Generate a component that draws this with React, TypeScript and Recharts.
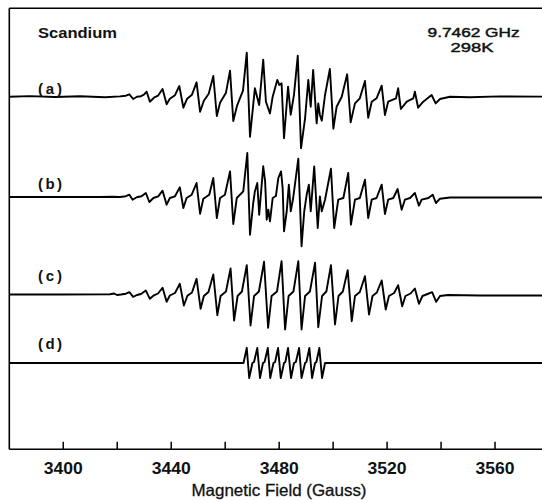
import React from 'react';
import { LineChart, Line, XAxis, YAxis, ReferenceLine } from 'recharts';

// ---- text ----
const sampleName = 'Scandium';
const conditions = ['9.7462 GHz', '298K'];
const traceLabels = ['(a)', '(b)', '(c)', '(d)'];
const axisTitle = 'Magnetic Field (Gauss)';

// ---- axis ----
const fieldDomain: [number, number] = [3380, 3580];
const fieldTicks = [3400, 3420, 3440, 3460, 3480, 3500, 3520, 3540, 3560];
const labelledTicks = [3400, 3440, 3480, 3520, 3560];

// ---- spectra: [field (G), derivative signal (arb.)] ----
const traceA: [number, number][] = [
  [3380.0, 0], [3387.7, 0.6], [3396.9, -0.3], [3406.2, 0.4], [3415.5, -0.5], [3421.0, 0.3],
  [3423.2, 1], [3424.5, 2.4], [3425.9, -2.3], [3427.3, 0], [3428.8, 0.5], [3429.9, 2],
  [3430.9, 5], [3432.1, -5], [3433.6, -1], [3435.1, 1], [3436.8, 7.7], [3438.3, -7.6],
  [3439.5, -2], [3441.4, 1.5], [3443.0, 10.7], [3444.5, -11], [3445.9, -2], [3447.7, 2],
  [3449.4, 14.4], [3450.7, -15], [3452.1, -4], [3453.9, 3], [3455.6, 20.7], [3456.9, -19.3],
  [3458.1, -6], [3460.3, 4], [3461.8, 26], [3463.0, -24.3], [3464.4, -9], [3466.6, 6],
  [3468.0, 44], [3469.2, -40], [3471.0, 8.4], [3472.6, -8.3], [3474.1, 37], [3475.1, -5],
  [3476.6, -16.7], [3477.6, 0], [3479.3, 16.7], [3480.1, 11.7], [3480.9, 13.4], [3481.8, -41.6],
  [3483.3, 10], [3484.3, -18], [3485.5, 2], [3486.9, 41], [3488.1, -51.6], [3489.6, -21.6],
  [3490.8, 16.7], [3491.7, -10], [3492.6, 26.7], [3493.9, -26.7], [3494.5, -6.7], [3495.1, -18.3],
  [3495.8, -24], [3497.0, 1.7], [3498.8, 27.7], [3500.1, -32], [3501.3, -10], [3503.2, 0],
  [3505.2, 22.4], [3506.5, -25.6], [3508.1, -6.7], [3509.9, -1.6], [3511.8, 15.7], [3513.0, -21],
  [3514.3, -5], [3516.1, -1.6], [3518.0, 11], [3519.2, -18.3], [3520.4, -5], [3523.3, -1.6],
  [3524.1, 8.4], [3525.1, -12.3], [3527.3, -5], [3529.7, -1.7], [3530.3, 5], [3531.5, -11],
  [3533.4, -5], [3536.5, 1.7], [3538.0, -6.7], [3539.6, -2.3], [3543.3, 0], [3550.7, -0.5],
  [3561.8, 0.3], [3580.0, 0],
];

const traceB: [number, number][] = [
  [3380.0, 0], [3398.8, 0], [3413.6, 0], [3418.0, 0.2], [3421.0, 0], [3423.2, 0.8],
  [3424.5, 2.3], [3425.7, -2.7], [3427.2, -0.3], [3429.0, 0.7], [3430.6, 4], [3431.9, -5],
  [3433.4, -1], [3435.2, 0.7], [3436.8, 6.3], [3438.3, -7.7], [3439.5, -1], [3441.4, 0.7],
  [3443.2, 9.7], [3444.5, -11], [3445.7, -1], [3447.6, 2.3], [3449.4, 14], [3450.7, -16.7],
  [3451.9, -1.7], [3454.1, 2.3], [3455.6, 19], [3456.9, -21], [3458.1, -1], [3459.9, 2.3],
  [3461.8, 25.6], [3463.0, -27], [3464.3, -1], [3466.7, 5.6], [3468.2, 44], [3469.2, -37.7],
  [3470.4, -6], [3471.0, 5.6], [3471.9, 14], [3472.6, -17.7], [3474.1, 30.7], [3474.8, 15.6],
  [3475.4, -22.7], [3476.0, -12.7], [3476.6, -24.3], [3477.6, -1], [3478.8, 1], [3479.7, 19],
  [3480.7, 25.6], [3481.3, 9], [3481.8, -34.3], [3482.8, -14.3], [3483.6, 12.3], [3484.3, -14.3],
  [3485.2, -1], [3487.1, 38.3], [3488.3, -49.3], [3489.3, -14.3], [3490.2, 2.3], [3491.0, 12.3],
  [3491.7, -14.3], [3493.0, 30.6], [3494.3, -31], [3495.1, 0.6], [3495.8, -14.3], [3497.0, -2.7],
  [3499.2, 28.3], [3500.4, -31], [3501.9, -2.7], [3503.8, -1], [3505.6, 24], [3506.6, -27.7],
  [3508.1, -2.7], [3509.9, -1], [3511.8, 17.3], [3513.0, -21], [3514.3, -2.7], [3516.1, -1],
  [3518.0, 12.3], [3519.2, -17], [3520.4, -2.7], [3522.3, -1], [3523.9, 8], [3525.4, -12.7],
  [3526.6, -2.7], [3528.5, -1], [3530.3, 4], [3531.8, -8.7], [3532.8, -2.7], [3535.3, -1],
  [3536.9, 2.3], [3538.1, -6], [3539.6, -1.7], [3543.3, -0.5], [3554.4, -0.5], [3580.0, -0.5],
];

const traceC: [number, number][] = [
  [3380.0, 0], [3398.8, 0], [3417.3, 0.3], [3418.8, 1], [3419.9, -0.5], [3421.4, 0],
  [3423.2, 0.8], [3424.5, 2.3], [3425.9, -2.3], [3427.3, -0.5], [3428.8, 0.5], [3430.6, 4],
  [3432.1, -4.3], [3433.6, -0.8], [3435.1, 1], [3436.8, 6.7], [3438.3, -7.3], [3439.5, -1],
  [3441.4, 1.5], [3443.2, 10.7], [3444.7, -11], [3446.0, -1.2], [3447.7, 2], [3449.4, 15.7],
  [3450.9, -14.3], [3452.1, -1.5], [3453.8, 2.5], [3455.6, 20], [3457.1, -20.7], [3458.3, -1.5],
  [3460.3, 3], [3462.0, 26], [3463.3, -26], [3464.6, -1.5], [3466.2, 3], [3468.0, 29.3],
  [3469.4, -31], [3470.7, -1.5], [3472.5, 3], [3474.4, 32.7], [3475.9, -33.3], [3477.2, -1.5],
  [3479.2, 3], [3480.9, 33.3], [3482.2, -35], [3483.5, -1.5], [3485.3, 3], [3487.1, 33.3],
  [3488.3, -35], [3489.6, -1.5], [3491.4, 3], [3493.3, 31.7], [3494.5, -32.7], [3495.9, -1.5],
  [3497.5, 3], [3499.2, 29.3], [3500.7, -30], [3502.0, -1.5], [3503.6, 3], [3505.4, 24.3],
  [3506.9, -26.7], [3508.1, -1.5], [3509.9, 2.5], [3511.8, 18.3], [3513.3, -20], [3514.6, -1.5],
  [3516.2, 2], [3518.0, 14], [3519.5, -15], [3520.7, -1.5], [3522.6, 1.5], [3524.1, 9.3],
  [3525.6, -11.7], [3526.8, -1.5], [3528.7, 1], [3530.3, 6], [3531.8, -9.3], [3533.1, -1.5],
  [3535.0, 0.5], [3536.7, 2.3], [3538.2, -7.3], [3539.6, -1.5], [3542.6, -0.5], [3554.4, -1],
  [3580.0, -1],
];

const traceD: [number, number][] = [
  [3380.0, 0], [3466.8, 0], [3468.0, 15], [3468.9, -15], [3470.1, 0], [3470.7, 1],
  [3471.9, 15], [3472.9, -15], [3474.0, 0], [3474.6, 1], [3475.8, 15], [3476.7, -15],
  [3477.9, 0], [3478.5, 1], [3479.6, 15], [3480.6, -15], [3481.8, 0], [3482.3, 1],
  [3483.3, 15], [3484.4, -15], [3485.5, 0], [3486.2, 1], [3487.4, 15], [3488.3, -15],
  [3489.6, 0], [3490.1, 1], [3491.2, 15], [3492.2, -15], [3493.3, 0], [3493.8, 1],
  [3494.9, 15], [3495.9, -15], [3497.0, 0], [3580.0, 0],
];

const toRows = (t: [number, number][]) => t.map(([field, signal]) => ({ field, signal }));

// layout (pixels)
const W = 560;
const H = 501;
const TOP = 8.3;
const AXIS_Y = 449.3;
const LEFT = 9.3;
const RIGHT_EDGE = 549;
const baselines = [96.7, 197, 294.5, 363];
const yDomain = (b: number): [number, number] => [-(AXIS_Y - b), b - TOP];
const labelY = [88.7, 183.3, 275, 343.3];

const FONT = '"Liberation Sans", Arial, Helvetica, sans-serif';
const INK = '#111';

const FieldTick = (props: any) => {
  const { x, y, payload } = props;
  const v = payload.value;
  return (
    <g>
      <line x1={x} x2={x} y1={y} y2={y - 7.5} stroke="#000" strokeWidth={1.5} />
      {labelledTicks.includes(v) && (
        <text x={x} y={y + 19} textAnchor="middle" dominantBaseline="central"
          fontFamily={FONT} fontSize={16} fontWeight="bold" fill={INK}
          textLength={39} lengthAdjust="spacingAndGlyphs">
          {v}
        </text>
      )}
    </g>
  );
};

const traces = [traceA, traceB, traceC, traceD];
const ids = ['a', 'b', 'c', 'd'];

export default function App() {
  return (
    <div style={{ position: 'absolute', left: 0, top: 0, width: 542, height: 501, overflow: 'hidden', background: '#fff' }}>
      <LineChart width={W} height={H} margin={{ top: TOP, right: W - RIGHT_EDGE, left: LEFT, bottom: 0 }}>
        <XAxis xAxisId="f" type="number" dataKey="field" domain={fieldDomain} allowDataOverflow
          ticks={fieldTicks} interval={0} height={H - AXIS_Y} tickSize={0} tickMargin={0}
          tickLine={false} axisLine={{ stroke: '#000', strokeWidth: 1.6 }} tick={<FieldTick />} />
        {ids.map((id, i) => (
          <YAxis key={id} yAxisId={id} type="number" domain={yDomain(baselines[i])} allowDataOverflow hide />
        ))}
        <ReferenceLine xAxisId="f" yAxisId="a" y={yDomain(baselines[0])[1]} stroke="#000" strokeWidth={1.6} ifOverflow="visible" />
        <ReferenceLine xAxisId="f" yAxisId="a" x={fieldDomain[0]} stroke="#000" strokeWidth={1.6} ifOverflow="visible" />
        {traces.map((t, i) => (
          <Line key={ids[i]} xAxisId="f" yAxisId={ids[i]} data={toRows(t)} dataKey="signal"
            type="linear" dot={false} activeDot={false} stroke="#000" strokeWidth={1.9}
            strokeLinejoin="round" isAnimationActive={false} />
        ))}
      </LineChart>
      <svg width={542} height={501} style={{ position: 'absolute', left: 0, top: 0, pointerEvents: 'none' }}>
        <text x={38} y={33.3} dominantBaseline="central" fontFamily={FONT} fontSize={14} fontWeight="bold" fill={INK}
          textLength={79} lengthAdjust="spacingAndGlyphs">
          {sampleName}
        </text>
        <text x={473.6} y={32.4} textAnchor="middle" dominantBaseline="central" fontFamily={FONT} fontSize={13.5} fill={INK}
          stroke={INK} strokeWidth={0.45} textLength={92} lengthAdjust="spacingAndGlyphs">
          {conditions[0]}
        </text>
        <text x={472} y={47.1} textAnchor="middle" dominantBaseline="central" fontFamily={FONT} fontSize={13.5} fill={INK}
          stroke={INK} strokeWidth={0.45} textLength={43} lengthAdjust="spacingAndGlyphs">
          {conditions[1]}
        </text>
        {traceLabels.map((l, i) => (
          <text key={l} x={38} y={labelY[i]} dominantBaseline="central"
            fontFamily={FONT} fontSize={15} fontWeight="bold" fill={INK}
            textLength={24} lengthAdjust="spacing">
            {l}
          </text>
        ))}
        <text x={279} y={490} textAnchor="middle" dominantBaseline="central" fontFamily={FONT} fontSize={16.5} fill={INK}
          stroke={INK} strokeWidth={0.3} textLength={175} lengthAdjust="spacingAndGlyphs">
          {axisTitle}
        </text>
      </svg>
    </div>
  );
}
